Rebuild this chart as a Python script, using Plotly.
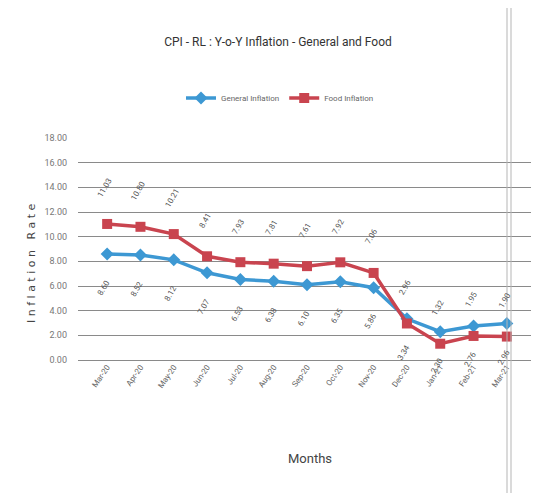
import plotly.graph_objects as go

months = ["Mar-20", "Apr-20", "May-20", "Jun-20", "Jul-20", "Aug-20", "Sep-20",
          "Oct-20", "Nov-20", "Dec-20", "Jan-21", "Feb-21", "Mar-21"]
general = [8.60, 8.52, 8.12, 7.07, 6.53, 6.38, 6.10, 6.35, 5.86, 3.34, 2.30, 2.76, 2.96]
food = [11.03, 10.80, 10.21, 8.41, 7.93, 7.81, 7.61, 7.92, 7.06, 2.96, 1.32, 1.95, 1.90]
y_ticks = [0, 2, 4, 6, 8, 10, 12, 14, 16, 18]

BLUE = "#3d98d3"
RED = "#c9444f"
FONT = "Liberation Sans Narrow, Roboto, sans-serif"

OFF = 8  # page body margin
W, H = 539, 493
# target plot area in screenshot pixels
X0, X1, Y0, Y1 = 78, 536, 138, 360
L, R, T, B = X0 - OFF, W - (X1 - OFF), Y0 - OFF, H - (Y1 - OFF)
PW, PH = W - L - R, H - T - B

def px_x(x):
    return (x - OFF - L) / PW

def px_y(y):
    return (H - B - (y - OFF)) / PH

fig = go.Figure()
fig.add_trace(go.Scatter(
    x=months, y=general, name="General Inflation", mode="lines+markers",
    line=dict(color=BLUE, width=3.5),
    marker=dict(symbol="diamond", size=10, color=BLUE)))
fig.add_trace(go.Scatter(
    x=months, y=food, name="Food Inflation", mode="lines+markers",
    line=dict(color=RED, width=3.5),
    marker=dict(symbol="square", size=10, color=RED)))

for m, v in zip(months, food):
    fig.add_annotation(x=m, y=v, text=f"{v:.2f}", showarrow=False, textangle=-60,
                       yshift=36, xshift=-2, font=dict(size=8, color="#555", family=FONT))
for m, v in zip(months, general):
    fig.add_annotation(x=m, y=v, text=f"{v:.2f}", showarrow=False, textangle=-60,
                       yshift=-34, xshift=-3, font=dict(size=8, color="#555", family=FONT))

fig.add_annotation(xref="paper", yref="paper", x=px_x(31), y=px_y(263),
                   xanchor="center", yanchor="middle",
                   text="I n f l a t i o n   R a t e", textangle=-90, showarrow=False,
                   font=dict(size=11, color="#444", family="DejaVu Sans"))
fig.add_annotation(xref="paper", yref="paper", x=px_x(310), y=px_y(458),
                   xanchor="center", yanchor="middle",
                   text="Months", showarrow=False,
                   font=dict(size=13, color="#444", family=FONT))

# scanned page edge
for xp in [507, 511]:
    fig.add_shape(type="line", xref="paper", yref="paper",
                  x0=px_x(xp), x1=px_x(xp), y0=px_y(500), y1=px_y(0),
                  line=dict(color="#b5b5b5", width=1))

fig.update_layout(
    width=W, height=H,
    margin=dict(l=L, r=R, t=T, b=B, autoexpand=False),
    paper_bgcolor="white", plot_bgcolor="white",
    title=dict(text="CPI - RL : Y-o-Y Inflation - General and Food",
               xref="container", yref="container", x=(278 - OFF) / W, y=1 - (42 - OFF) / H,
               xanchor="center", yanchor="middle",
               font=dict(size=12, color="#333", family=FONT)),
    legend=dict(orientation="h", x=px_x(280), y=px_y(98),
                xanchor="center", yanchor="middle",
                font=dict(size=8, color="#666", family=FONT), itemwidth=30),
    showlegend=True,
)
fig.update_xaxes(showgrid=False, showline=False, ticks="", tickangle=-55,
                 tickfont=dict(size=8, color="#666", family=FONT), automargin=False)
fig.update_yaxes(range=[0, 18], tickvals=y_ticks, tickformat=".2f",
                 showgrid=True, gridcolor="#8a8a8a", gridwidth=1,
                 zeroline=True, zerolinecolor="#8a8a8a", zerolinewidth=1,
                 ticklabelstandoff=10, automargin=False,
                 tickfont=dict(size=9, color="#777", family=FONT))

fig.write_html("out.html")
